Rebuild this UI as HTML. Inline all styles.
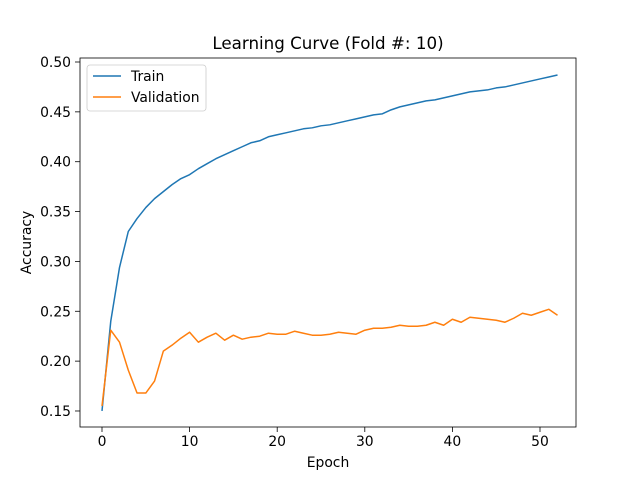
<!DOCTYPE html>
<html><head><meta charset="utf-8"><style>body{margin:0;background:#fff}svg{display:block;font-family:"DejaVu Sans","Liberation Sans",sans-serif}</style></head>
<body>
<svg id="chart" width="640" height="480">
<rect width="640" height="480" fill="#fff"/>
<text x="328" y="49" font-size="16.7" text-anchor="middle">Learning Curve (Fold #: 10)</text>
<g id="plot"></g>
<rect x="80" y="58" width="496" height="369" fill="none" stroke="#000" stroke-width="0.8"/>
<text x="328" y="467" font-size="13.9" text-anchor="middle">Epoch</text>
<text transform="translate(31,242.5) rotate(-90)" font-size="13.9" text-anchor="middle">Accuracy</text>
<g>
<rect x="87" y="65" width="119" height="46" rx="3" fill="#fff" fill-opacity="0.8" stroke="#ccc" stroke-width="0.8"/>
<line x1="93" y1="76" x2="121" y2="76" stroke="#1f77b4" stroke-width="1.5"/>
<text x="131" y="81" font-size="13.9">Train</text>
<line x1="93" y1="97" x2="121" y2="97" stroke="#ff7f0e" stroke-width="1.5"/>
<text x="131" y="102" font-size="13.9">Validation</text>
</g>
</svg>
<script>
const xTicks=[0,10,20,30,40,50];
const yTicks=[0.15,0.20,0.25,0.30,0.35,0.40,0.45,0.50];
const train=[0.150,0.240,0.294,0.330,0.343,0.354,0.363,0.370,0.377,0.383,0.387,0.393,0.398,0.403,0.407,0.411,0.415,0.419,0.421,0.425,0.427,0.429,0.431,0.433,0.434,0.436,0.437,0.439,0.441,0.443,0.445,0.447,0.448,0.452,0.455,0.457,0.459,0.461,0.462,0.464,0.466,0.468,0.470,0.471,0.472,0.474,0.475,0.477,0.479,0.481,0.483,0.485,0.487];
const validation=[0.155,0.231,0.219,0.191,0.168,0.168,0.180,0.210,0.216,0.223,0.229,0.219,0.224,0.228,0.221,0.226,0.222,0.224,0.225,0.228,0.227,0.227,0.230,0.228,0.226,0.226,0.227,0.229,0.228,0.227,0.231,0.233,0.233,0.234,0.236,0.235,0.235,0.236,0.239,0.236,0.242,0.239,0.244,0.243,0.242,0.241,0.239,0.243,0.248,0.246,0.249,0.252,0.246];
const NS='http://www.w3.org/2000/svg';
const sx=e=>102+e*8.76;
const sy=v=>62+(0.50-v)*997.1;
const g=document.getElementById('plot');
function mk(t,a){const el=document.createElementNS(NS,t);for(const k in a)el.setAttribute(k,a[k]);g.appendChild(el);return el;}
xTicks.forEach(t=>{
 const l=mk('line',{x1:sx(t),x2:sx(t),y1:427,y2:432,stroke:'#000','stroke-width':0.8});
 
 
 const tx=mk('text',{x:sx(t),y:446,'font-size':13.9,'text-anchor':'middle'});tx.textContent=t;
 
 
});
yTicks.forEach(t=>{
 const l=mk('line',{x1:75,x2:80,y1:sy(t),y2:sy(t),stroke:'#000','stroke-width':0.8});
 
 
 const tx=mk('text',{x:71,y:sy(t)+5,'font-size':13.9,'text-anchor':'end'});tx.textContent=t.toFixed(2);
 
 
});
function line(arr,color,name){
 const p=mk('polyline',{points:arr.map((v,i)=>sx(i)+','+sy(v)).join(' '),fill:'none',stroke:color,'stroke-width':1.5,'stroke-linejoin':'round'});
 
 
}
line(train,'#1f77b4','train-line');
line(validation,'#ff7f0e','validation-line');
</script>
</body></html>
